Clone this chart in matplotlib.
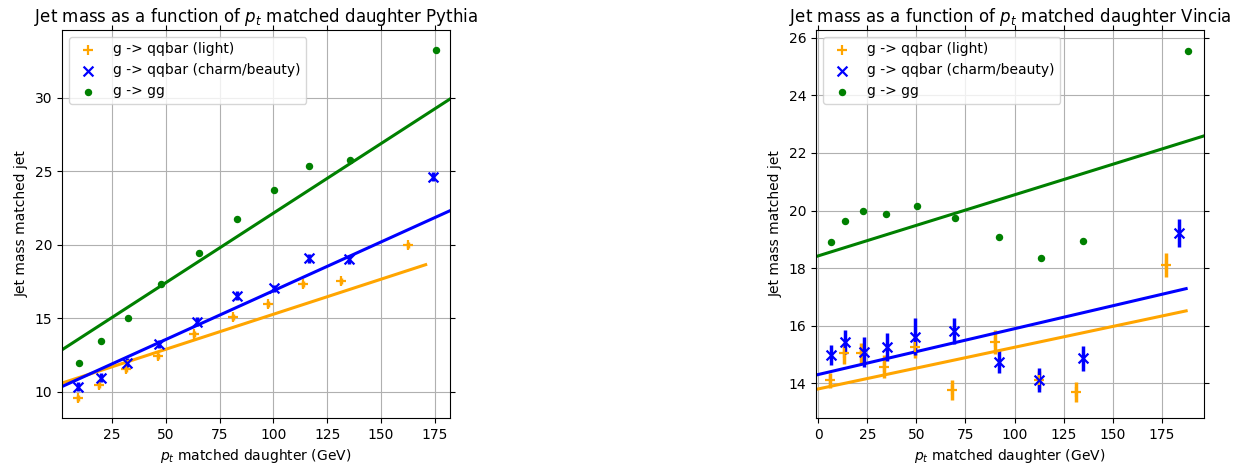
import numpy as np
import matplotlib.pyplot as plt

# Pythia
py_light_x = [9.1, 18.8, 31.5, 46.5, 63.3, 81.0, 97.7, 113.9, 131.4, 162.6]
py_light_y = [9.55, 10.46, 11.52, 12.43, 13.9, 15.1, 15.97, 17.33, 17.55, 19.96]
py_light_err = [0.2, 0.2, 0.2, 0.2, 0.2, 0.2, 0.2, 0.2, 0.2, 0.2]
py_heavy_x = [9.2, 19.9, 32.0, 46.9, 64.4, 83.0, 100.4, 116.7, 135.3, 174.2]
py_heavy_y = [10.34, 10.95, 11.97, 13.24, 14.76, 16.51, 17.03, 19.07, 19.0, 24.63]
py_heavy_err = [0.3, 0.3, 0.3, 0.25, 0.3, 0.3, 0.25, 0.3, 0.3, 0.3]
py_gg_x = [9.8, 20.0, 32.4, 47.9, 65.4, 83.0, 100.3, 116.6, 135.6, 175.3]
py_gg_y = [11.93, 13.43, 14.99, 17.33, 19.46, 21.77, 23.74, 25.37, 25.74, 33.27]
py_gg_err = [0.1, 0.1, 0.1, 0.1, 0.15, 0.1, 0.1, 0.15, 0.1, 0.1]
# fit lines: slope, intercept, x end
py_fit = {"light": (0.0477, 10.49, 170.7),
          "heavy": (0.0664, 10.22, 190.0),
          "gg": (0.0947, 12.67, 190.0)}

# Vincia
vi_light_x = [6.1, 12.9, 21.9, 33.3, 49.1, 68.1, 90.1, 112.3, 131.1, 177.4]
vi_light_y = [14.11, 15.04, 15.04, 14.58, 15.27, 13.77, 15.44, 14.12, 13.71, 18.11]
vi_light_err = [0.26, 0.35, 0.35, 0.4, 0.38, 0.35, 0.43, 0.3, 0.35, 0.43]
vi_heavy_x = [6.6, 13.6, 23.3, 34.8, 49.3, 68.9, 92.2, 112.6, 135.1, 183.7]
vi_heavy_y = [14.98, 15.44, 15.10, 15.27, 15.62, 15.82, 14.75, 14.12, 14.87, 19.21]
vi_heavy_err = [0.35, 0.43, 0.52, 0.49, 0.64, 0.46, 0.4, 0.43, 0.43, 0.49]
vi_gg_x = [6.3, 13.4, 22.6, 34.5, 50.2, 69.8, 91.9, 113.5, 135.1, 188.2]
vi_gg_y = [18.90, 19.65, 19.99, 19.89, 20.17, 19.76, 19.09, 18.36, 18.95, 25.55]
vi_gg_err = [0.06, 0.06, 0.05, 0.06, 0.06, 0.06, 0.06, 0.06, 0.05, 0.06]
vi_fit = {"light": (0.01445, 13.81, 187.5),
          "heavy": (0.0159, 14.31, 187.5),
          "gg": (0.02118, 18.43, 205.0)}

labels = {"light": "g -> qqbar (light)",
          "heavy": "g -> qqbar (charm/beauty)",
          "gg": "g -> gg"}
colors = {"light": "orange", "heavy": "blue", "gg": "green"}
markers = {"light": "+", "heavy": "x", "gg": "o"}
sizes = {"light": 50, "heavy": 50, "gg": 14}

fig = plt.figure(figsize=(12.4, 4.67), dpi=100)
ax1 = fig.add_axes([62/1240, 49/467, 388/1240, 388/467])
ax2 = fig.add_axes([816/1240, 49/467, 388/1240, 388/467])


def draw(ax, data, fits, name, xlim, ylim, xticks, yticks):
    for key in ["light", "heavy", "gg"]:
        x, y, e = data[key]
        ax.errorbar(x, y, yerr=e, fmt="none", ecolor=colors[key], elinewidth=2.5)
        ax.scatter(x, y, marker=markers[key], color=colors[key], s=sizes[key],
                   linewidths=1.6, label=labels[key], zorder=3)
    for key in ["light", "heavy", "gg"]:
        a, b, xe = fits[key]
        xl = np.linspace(-10, xe, 50)
        ax.plot(xl, a * xl + b, color=colors[key], lw=2.2)
    ax.set_xlim(*xlim)
    ax.set_ylim(*ylim)
    ax.set_xticks(xticks)
    ax.set_yticks(yticks)
    ax.tick_params(top=True, right=True)
    ax.grid(True)
    ax.set_title("Jet mass as a function of $p_t$ matched daughter " + name)
    ax.set_xlabel("$p_t$ matched daughter (GeV)")
    ax.set_ylabel("Jet mass matched jet")
    ax.legend(loc="upper left")


draw(ax1, {"light": (py_light_x, py_light_y, py_light_err),
           "heavy": (py_heavy_x, py_heavy_y, py_heavy_err),
           "gg": (py_gg_x, py_gg_y, py_gg_err)},
     py_fit, "Pythia", (1.8, 182), (8.2, 34.6),
     [25, 50, 75, 100, 125, 150, 175], [10, 15, 20, 25, 30])
draw(ax2, {"light": (vi_light_x, vi_light_y, vi_light_err),
           "heavy": (vi_heavy_x, vi_heavy_y, vi_heavy_err),
           "gg": (vi_gg_x, vi_gg_y, vi_gg_err)},
     vi_fit, "Vincia", (-1.2, 196.6), (12.8, 26.27),
     [0, 25, 50, 75, 100, 125, 150, 175], [14, 16, 18, 20, 22, 24, 26])

fig.savefig("out.png", dpi=100)
